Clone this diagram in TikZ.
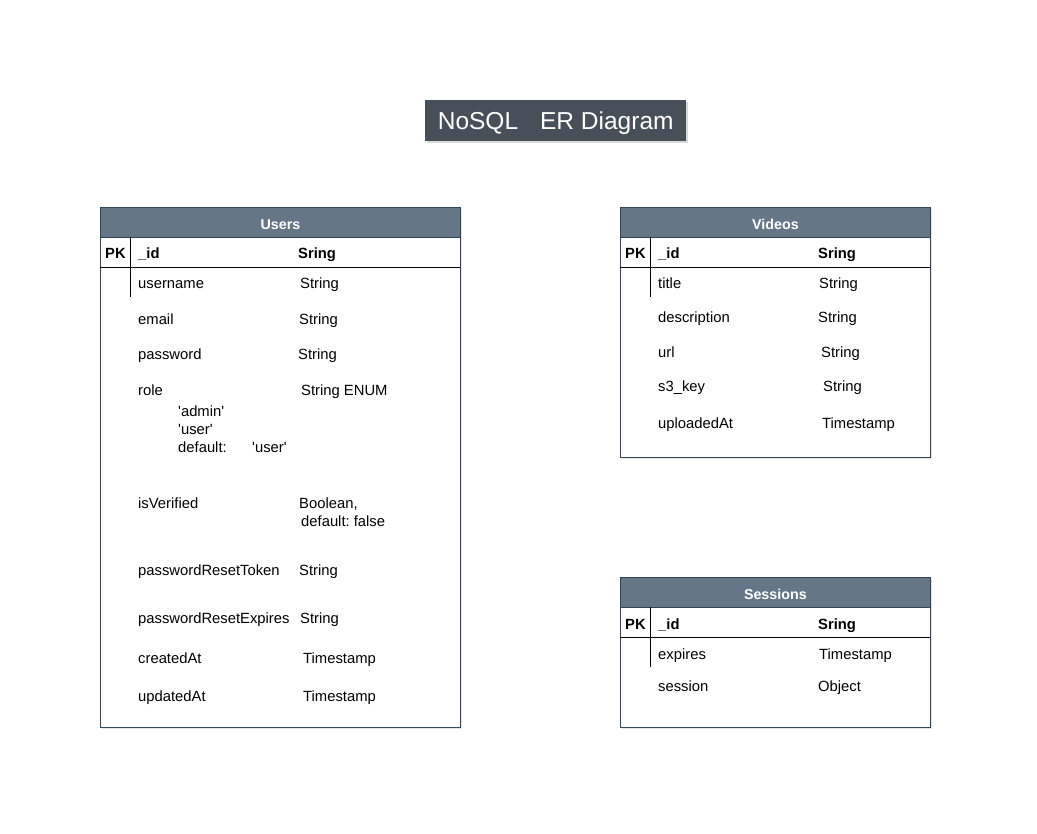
\documentclass[tikz,border=0pt]{standalone}
\usepackage{fontspec}
\setmainfont{Liberation Sans}[Ligatures=TeXOff]
\usetikzlibrary{shadows}
\definecolor{hdr}{HTML}{647687}
\definecolor{hdrline}{HTML}{314354}
\definecolor{ttl}{HTML}{474F59}
\frenchspacing
\begin{document}
\begin{tikzpicture}[x=1pt,y=-1pt,
  box/.style={draw=hdrline, line width=0.8pt, fill=white, anchor=north west, inner sep=0pt,
    drop shadow={shadow xshift=2pt,shadow yshift=-2pt,opacity=0.2}},
  hdrbox/.style={draw=hdrline, line width=0.8pt, fill=hdr, anchor=north west, inner sep=0pt,
    minimum height=30pt, text=white, text height=13.5pt, text depth=0pt, font=\fontsize{14.3}{17}\selectfont\bfseries},
  fld/.style={anchor=base west, inner sep=0pt, font=\fontsize{14.8}{17}\selectfont},
  keyfld/.style={anchor=base west, inner sep=0pt, font=\fontsize{14.8}{17}\selectfont\bfseries},
  sepline/.style={draw=black, line width=0.8pt}]
\useasboundingbox (0,0) rectangle (1037,834);
\fill[white] (0,0) rectangle (1037,834);

% Title
\node[fill=ttl, text=white, anchor=north west, minimum width=261pt, minimum height=41pt,
  inner sep=0pt, text depth=0pt, font=\fontsize{24.5}{28}\selectfont,
  drop shadow={shadow xshift=2pt,shadow yshift=-2pt,opacity=0.3}] (title) at (425,100)
  {NoSQL\hspace{22pt}ER Diagram};

% ---------------- Users ----------------
\node[box, minimum width=360pt, minimum height=520pt] (users) at (100,207) {};
\node[hdrbox, minimum width=360pt] (usersH) at (100,207) {Users};
\draw[sepline] (100,267) -- (460,267);
\draw[sepline] (130,237) -- (130,297);
\node[keyfld] (uPK) at (105,259) {PK};
\node[keyfld] (uId) at (138,259) {\_id};
\node[keyfld] (uIdT) at (298,259) {Sring};
\node[fld] (uName) at (138,289) {username};
\node[fld] (uNameT) at (300,289) {String};
\node[fld] (uMail) at (138,325) {email};
\node[fld] (uMailT) at (299,325) {String};
\node[fld] (uPw) at (138,360) {password};
\node[fld] (uPwT) at (298,360) {String};
\node[fld] (uRole) at (138,396) {role};
\node[fld] (uRoleT) at (301,396) {String ENUM};
\node[fld] (uRoleA) at (178,417) {'admin'};
\node[fld] (uRoleU) at (178,435) {'user'};
\node[fld] (uRoleD) at (178,453) {default:};
\node[fld] (uRoleDV) at (252,453) {'user'};
\node[fld] (uVer) at (138,508) {isVerified};
\node[fld] (uVerT) at (299,508) {Boolean,};
\node[fld] (uVerD) at (301,526) {default: false};
\node[fld] (uTok) at (138,575) {passwordResetToken};
\node[fld] (uTokT) at (299,575) {String};
\node[fld] (uExp) at (138,623) {passwordResetExpires};
\node[fld] (uExpT) at (300,623) {String};
\node[fld] (uCr) at (138,663) {createdAt};
\node[fld] (uCrT) at (303,663) {Timestamp};
\node[fld] (uUp) at (138,701) {updatedAt};
\node[fld] (uUpT) at (303,701) {Timestamp};

% ---------------- Videos ----------------
\node[box, minimum width=310pt, minimum height=250pt] (videos) at (620,207) {};
\node[hdrbox, minimum width=310pt] (videosH) at (620,207) {Videos};
\draw[sepline] (620,267) -- (930,267);
\draw[sepline] (650,237) -- (650,297);
\node[keyfld] (vPK) at (625,259) {PK};
\node[keyfld] (vId) at (658,259) {\_id};
\node[keyfld] (vIdT) at (818,259) {Sring};
\node[fld] (vTitle) at (658,289) {title};
\node[fld] (vTitleT) at (819,289) {String};
\node[fld] (vDesc) at (658,323) {description};
\node[fld] (vDescT) at (818,323) {String};
\node[fld] (vUrl) at (658,358) {url};
\node[fld] (vUrlT) at (821,358) {String};
\node[fld] (vKey) at (658,392) {s3\_key};
\node[fld] (vKeyT) at (823,392) {String};
\node[fld] (vUp) at (658,429) {uploadedAt};
\node[fld] (vUpT) at (822,429) {Timestamp};

% ---------------- Sessions ----------------
\node[box, minimum width=310pt, minimum height=150pt] (sessions) at (620,577) {};
\node[hdrbox, minimum width=310pt] (sessionsH) at (620,577) {Sessions};
\draw[sepline] (620,637) -- (930,637);
\draw[sepline] (650,607) -- (650,667);
\node[keyfld] (sPK) at (625,629) {PK};
\node[keyfld] (sId) at (658,629) {\_id};
\node[keyfld] (sIdT) at (818,629) {Sring};
\node[fld] (sExp) at (658,659) {expires};
\node[fld] (sExpT) at (819,659) {Timestamp};
\node[fld] (sSes) at (658,691) {session};
\node[fld] (sSesT) at (818,691) {Object};
\end{tikzpicture}
\end{document}
